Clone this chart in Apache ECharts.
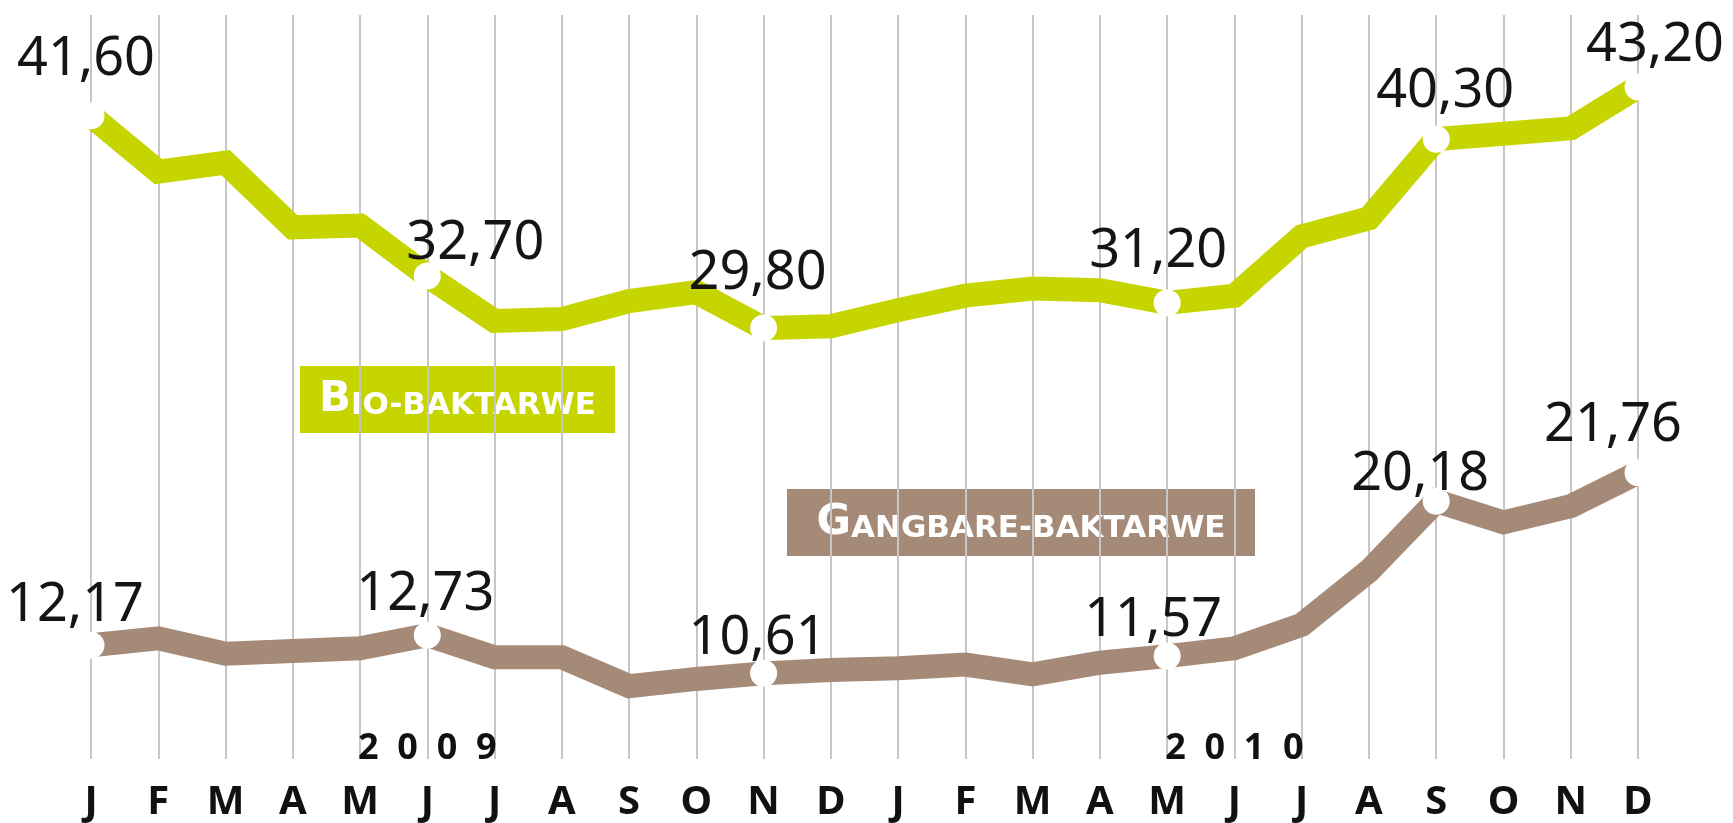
<!DOCTYPE html>
<html>
<head>
<meta charset="utf-8">
<script src="https://cdn.jsdelivr.net/npm/echarts@6/dist/echarts.min.js"></script>
<style>
  html, body { margin: 0; padding: 0; background: #ffffff; }
  #chart { width: 1733px; height: 823px; }
</style>
</head>
<body>
<div id="chart"></div>
<script>
// ---- data ----
const months = ['J','F','M','A','M','J','J','A','S','O','N','D','J','F','M','A','M','J','J','A','S','O','N','D'];
const yearLabels = ['', '', '', '', '', '2  0  0  9', '', '', '', '', '', '', '', '', '', '', '', '2  0  1  0', '', '', '', '', '', ''];
const seriesNames = ['Bio-baktarwe', 'Gangbare-baktarwe'];
const bioValues = [41.6, 38.5, 39.0, 35.4, 35.5, 32.7, 30.2, 30.3, 31.3, 31.8, 29.8, 29.9,
                   30.8, 31.6, 32.0, 31.9, 31.2, 31.6, 34.9, 35.9, 40.3, 40.6, 40.9, 43.2];
const gangbareValues = [12.17, 12.56, 11.7, 11.85, 12.0, 12.73, 11.5, 11.5, 9.9, 10.3, 10.61, 10.8,
                        10.9, 11.1, 10.55, 11.2, 11.57, 12.0, 13.3, 16.3, 20.18, 19.0, 19.9, 21.76];
const labeledIdx = [0, 5, 10, 16, 20, 23];

// ---- styles ----
const LIME = '#c6d400';
const BROWN = '#a58a78';
const FONT = "'Noto Sans', 'Open Sans', sans-serif";
const LEGEND_FONT = "'DejaVu Sans', 'Noto Sans', sans-serif";
const bioLabelOffsets = {0: [-5, -16], 5: [48, 8], 10: [-6, -14], 16: [-9, -11], 20: [9, -7], 23: [17, -1]};
const brownLabelOffsets = {0: [-16, 1], 5: [-2, 0], 10: [-6, 6], 16: [-14, 5], 20: [-16, 14], 23: [-25, -7]};

function fmt(v) { return v.toFixed(2).replace('.', ','); }

function buildData(values, offsets) {
  return values.map((v, i) => {
    if (labeledIdx.indexOf(i) >= 0) {
      return {
        value: v,
        symbol: 'circle',
        symbolSize: 27,
        itemStyle: { color: '#ffffff', borderWidth: 0 },
        label: {
          show: true,
          position: 'top',
          distance: 0,
          offset: offsets[i],
          formatter: p => fmt(p.value),
          fontFamily: FONT,
          fontSize: 54,
          lineHeight: 54,
          color: '#151515'
        }
      };
    }
    return { value: v, symbol: 'none' };
  });
}

function smallCaps(name) {
  const first = name.charAt(0).toUpperCase();
  const rest = name.slice(1).toUpperCase();
  return {
    text: '{a|' + first + '}{b|' + rest + '}',
    rich: {
      a: { fontSize: 42, lineHeight: 42, fontWeight: 'bold', fontFamily: LEGEND_FONT, fill: '#ffffff', verticalAlign: 'bottom' },
      b: { fontSize: 31, lineHeight: 31, fontWeight: 'bold', fontFamily: LEGEND_FONT, fill: '#ffffff', verticalAlign: 'bottom' }
    },
    align: 'center',
    verticalAlign: 'middle'
  };
}

const chart = echarts.init(document.getElementById('chart'), null, { renderer: 'canvas' });

const option = {
  backgroundColor: '#ffffff',
  animation: false,
  grid: { left: 91, right: 95, top: 15, bottom: 61, containLabel: false },
  xAxis: [
    {
      type: 'category',
      data: months,
      boundaryGap: false,
      axisLine: { show: false },
      axisTick: { show: false },
      splitLine: { show: true, lineStyle: { color: '#c6c6c6', width: 2 } },
      axisLabel: {
        interval: 0, margin: 24,
        fontFamily: FONT, fontSize: 40, lineHeight: 40, fontWeight: 'bold', color: '#111111'
      }
    },
    {
      type: 'category',
      data: yearLabels,
      position: 'bottom',
      boundaryGap: false,
      axisLine: { show: false },
      axisTick: { show: false },
      splitLine: { show: false },
      axisLabel: {
        interval: 0, margin: -28,
        fontFamily: FONT, fontSize: 36, lineHeight: 36, fontWeight: 'bold', color: '#111111'
      }
    }
  ],
  yAxis: {
    type: 'value',
    min: 5.85,
    max: 47.2,
    show: false,
    splitLine: { show: false }
  },
  series: [
    {
      name: seriesNames[0],
      type: 'line',
      data: buildData(bioValues, bioLabelOffsets),
      lineStyle: { color: LIME, width: 24, join: 'miter', cap: 'butt' },
      itemStyle: { color: LIME },
      clip: false,
      z: 3,
      emphasis: { disabled: true }
    },
    {
      name: seriesNames[1],
      type: 'line',
      data: buildData(gangbareValues, brownLabelOffsets),
      lineStyle: { color: BROWN, width: 24, join: 'miter', cap: 'butt' },
      itemStyle: { color: BROWN },
      clip: false,
      z: 3,
      emphasis: { disabled: true }
    }
  ],
  graphic: [
    {
      type: 'group',
      children: [
        { type: 'rect', shape: { x: 300, y: 366, width: 315, height: 67 }, style: { fill: LIME } },
        { type: 'text', x: 457.5, y: 400, style: smallCaps(seriesNames[0]) }
      ]
    },
    {
      type: 'group',
      children: [
        { type: 'rect', shape: { x: 787, y: 489, width: 468, height: 67 }, style: { fill: BROWN } },
        { type: 'text', x: 1021, y: 523, style: smallCaps(seriesNames[1]) }
      ]
    }
  ]
};

chart.setOption(option);
</script>
</body>
</html>
